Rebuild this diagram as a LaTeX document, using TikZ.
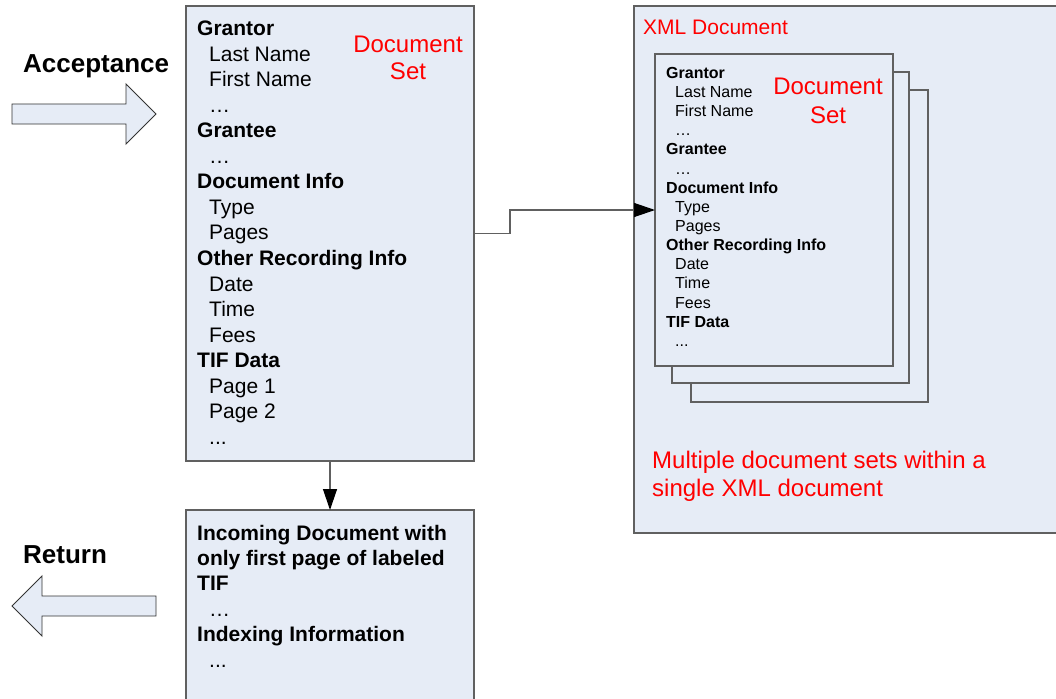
\documentclass[tikz,border=0pt]{standalone}
\usepackage{fontspec}
\setmainfont{Liberation Sans}
\usetikzlibrary{arrows.meta}
\definecolor{boxfill}{RGB}{230,236,246}
\definecolor{boxline}{RGB}{96,96,96}
\newcommand\tdots{...}
\begin{document}
\begin{tikzpicture}[x=1pt,y=-1pt,
  box/.style={draw=boxline, line width=1.4pt, fill=boxfill, anchor=north west, inner sep=0pt, outer sep=0pt},
  conn/.style={draw=boxline, line width=1.3pt},
  tipa/.style={-{Triangle[length=21pt,width=14pt,color=black]}},
  blockarrow/.style={draw=black!80, line width=0.9pt, fill=boxfill},
  bigtxt/.style={font=\fontsize{21}{25}\selectfont, anchor=base west, inner sep=0pt},
  smalltxt/.style={font=\fontsize{16}{19}\selectfont, anchor=base west, inner sep=0pt},
  redtxt/.style={text=red, font=\fontsize{24}{28}\selectfont, inner sep=0pt, anchor=base},
  redleft/.style={redtxt, anchor=base west},
  sidetxt/.style={font=\fontsize{26}{30}\selectfont\bfseries, anchor=base west, inner sep=0pt}
]
\clip (0,0) rectangle (1056,698);
\fill[white] (0,0) rectangle (1056,698);

% block arrows
\draw[blockarrow] (12,104) -- (126,104) -- (126,84) -- (156,114) -- (126,144) -- (126,124) -- (12,124) -- cycle;
\draw[blockarrow] (156,596) -- (42,596) -- (42,576) -- (12,606) -- (42,636) -- (42,616) -- (156,616) -- cycle;
\node[sidetxt] (acc) at (23,73) {Acceptance};
\node[sidetxt] (ret) at (23,563) {Return};

% main boxes
\node[box, minimum width=288pt, minimum height=455pt] (box1) at (186,6) {};
\node[box, minimum width=288pt, minimum height=220pt] (box2) at (186,510) {};
\node[box, minimum width=440pt, minimum height=527pt] (xml) at (634,6) {};

% stacked pages
\node[box, minimum width=237pt, minimum height=312pt] (page3) at (691,90) {};
\node[box, minimum width=237pt, minimum height=311pt] (page2) at (672,72) {};
\node[box, minimum width=238pt, minimum height=312pt] (page1) at (655,54) {};

% connectors
\draw[conn, tipa] (box1.east) -- ++(36,0) |- (page1.west);
\draw[conn, tipa] (box1.south) -- (box2.north);

% left box text
\foreach [count=\i from 0, evaluate=\isb as \xx using {\isb==1 ? 197 : 209}] \txt/\isb in
  {Grantor/1, Last Name/0, First Name/0, …/0, Grantee/1, …/0, Document Info/1, Type/0, Pages/0,
   Other Recording Info/1, Date/0, Time/0, Fees/0, TIF Data/1, Page 1/0, Page 2/0, \tdots/0}
  \node[bigtxt] (L\i) at (\xx, 35.5+25.55*\i) {\ifnum\isb=1 \bfseries\fi\txt};

\node[redtxt] (ds1a) at (408,53) {Document};
\node[redtxt] (ds1b) at (408,80) {Set};

% inner page text
\foreach [count=\i from 0, evaluate=\isb as \xx using {\isb==1 ? 666 : 675}] \txt/\isb in
  {Grantor/1, Last Name/0, First Name/0, …/0, Grantee/1, …/0, Document Info/1, Type/0, Pages/0,
   Other Recording Info/1, Date/0, Time/0, Fees/0, TIF Data/1, \tdots/0}
  \node[smalltxt] (P\i) at (\xx, 78.3+19.15*\i) {\ifnum\isb=1 \bfseries\fi\txt};

\node[redtxt] (ds2a) at (828,95) {Document};
\node[redtxt] (ds2b) at (828,123) {Set};

\node[redleft, font=\fontsize{21}{25}\selectfont] (xmlt) at (643,35) {XML Document};
\node[redleft] (multi1) at (652,468) {Multiple document sets within a};
\node[redleft] (multi2) at (652,496) {single XML document};

% bottom box text
\foreach [count=\i from 0, evaluate=\isb as \xx using {\isb==1 ? 197 : 209}] \txt/\isb in
  {Incoming Document with/1, only first page of labeled/1, TIF/1, …/0, Indexing Information/1, \tdots/0}
  \node[bigtxt] (B\i) at (\xx, 540+25.4*\i) {\ifnum\isb=1 \bfseries\fi\txt};
\end{tikzpicture}
\end{document}
